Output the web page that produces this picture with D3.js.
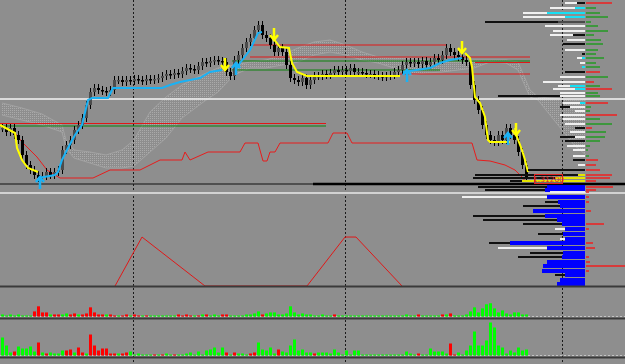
<!DOCTYPE html>
<html>
<head>
<meta charset="utf-8">
<script src="https://cdn.jsdelivr.net/npm/d3@7"></script>
<style>
  body { margin: 0; background: #8e8e8e; overflow: hidden; }
  svg { display: block; }
</style>
</head>
<body>
<div id="chart"></div>
<script>
// close prices, one per bar
const closes = [1.3226,1.3218,1.3226,1.3212,1.3202,1.3172,1.3152,1.3142,1.3132,1.3126,
  1.3130,1.3138,1.3132,1.3138,1.3142,1.3182,1.3192,1.3202,1.3222,1.3232,
  1.3246,1.3272,1.3298,1.3306,1.3302,1.3300,1.3298,1.3302,1.3322,1.3322,
  1.3318,1.3322,1.3320,1.3324,1.3322,1.3320,1.3324,1.3322,1.3324,1.3326,
  1.3330,1.3334,1.3332,1.3336,1.3334,1.3340,1.3346,1.3344,1.3342,1.3350,
  1.3358,1.3356,1.3360,1.3362,1.3360,1.3358,1.3338,1.3330,1.3362,1.3372,
  1.3386,1.3398,1.3406,1.3422,1.3432,1.3412,1.3406,1.3392,1.3378,1.3386,
  1.3378,1.3352,1.3326,1.3322,1.3318,1.3326,1.3312,1.3322,1.3330,1.3330,
  1.3334,1.3332,1.3336,1.3342,1.3338,1.3342,1.3340,1.3346,1.3338,1.3338,
  1.3336,1.3334,1.3334,1.3332,1.3330,1.3328,1.3330,1.3332,1.3338,1.3342,
  1.3352,1.3358,1.3356,1.3358,1.3354,1.3360,1.3352,1.3358,1.3366,1.3362,
  1.3372,1.3386,1.3378,1.3372,1.3368,1.3362,1.3358,1.3312,1.3282,1.3262,
  1.3232,1.3212,1.3202,1.3198,1.3212,1.3202,1.3226,1.3212,1.3202,1.3178,
  1.3152,1.3126];

// volumes, + buy (green) / - sell (red)
const vol1 = [2,1,2,1,2,1,1,1,-5,-10,
  -4,-4,2,-2,-2,2,3,-2,-3,2,
  -2,-3,-9,-4,-2,-2,2,-2,-1,1,
  -1,-2,1,-2,-1,1,-1,1,1,1,
  1,1,1,1,-2,-1,-2,-1,1,-1,
  2,-2,1,2,1,-2,-2,1,1,1,
  1,2,2,3,5,-2,3,4,4,2,
  2,3,10,4,2,3,2,2,1,1,
  2,1,1,-2,1,1,1,1,1,1,
  1,1,1,1,1,1,1,1,1,1,
  1,2,1,1,-2,1,1,1,1,1,
  -2,2,-3,1,1,1,2,5,9,4,
  8,12,13,8,4,6,3,2,4,4,
  2,2];
const vol2 = [18,10,3,-4,9,7,7,9,4,-13,
  3,-2,3,2,2,5,-5,-6,3,-8,
  -3,2,-21,-10,-5,-7,-7,-2,-2,2,
  -2,-3,4,1,2,1,1,1,-1,1,
  -1,2,1,-1,1,1,2,3,1,4,
  1,5,6,8,3,8,-3,1,-3,2,
  2,1,-2,-3,13,6,5,8,2,-6,
  4,3,10,16,5,6,3,3,-2,3,
  3,3,2,6,3,1,5,1,5,5,
  1,1,1,1,1,1,1,1,1,1,
  1,4,2,1,-2,1,1,7,4,4,
  4,2,-12,-1,3,1,5,10,24,10,
  10,15,33,28,10,8,2,5,3,8,
  5,6];

// ichimoku-like cloud: bar index, upper, lower
const cloudIdx = [0,5,10,15,16,18,22,26,30,33,37,41,45,50,54,58,62,66,70,74,78,82,86,90,94,98,102,106,110,114,118,122,126,129,132,134,137,140,143,146];
const cloudTop = [1.3276,1.3266,1.3254,1.3232,1.3202,1.3182,1.3178,1.3172,1.3182,1.3202,1.3258,1.3288,1.3312,1.3332,1.3346,1.3352,1.3358,1.3362,1.3372,1.3386,1.3398,1.3402,1.3392,1.3378,1.3368,1.3366,1.3366,1.3362,1.3358,1.3358,1.3362,1.3362,1.3362,1.3358,1.3302,1.3288,1.3286,1.3284,1.3282,1.3282];
const cloudBot = [1.3252,1.3242,1.3232,1.3218,1.3186,1.3166,1.3156,1.3146,1.3146,1.3150,1.3178,1.3206,1.3246,1.3276,1.3298,1.3332,1.3346,1.3346,1.3352,1.3358,1.3372,1.3378,1.3372,1.3362,1.3356,1.3346,1.3332,1.3336,1.3338,1.3342,1.3346,1.3358,1.3356,1.3342,1.3288,1.3282,1.3252,1.3222,1.3192,1.3172];

// red base line
const baseIdx = [-0.5,3.25,5,8.75,11.25,14.5,22.75,27,34.5,39.5,45,45.75,47,51.5,59.5,60.75,64,65.25,66.25,67,68.25,69.5,81.5,82.75,86.25,87.5,117.5,118.75,122,125.75,128.25,130,131];
const basePrice = [1.3232,1.3216,1.3198,1.3168,1.3142,1.3126,1.3126,1.3142,1.3142,1.3162,1.3162,1.3178,1.3162,1.3178,1.3178,1.3196,1.3196,1.3160,1.3160,1.3178,1.3178,1.3196,1.3196,1.3216,1.3216,1.3196,1.3196,1.3162,1.3160,1.3152,1.3142,1.3128,1.3118];

// trend stop segments [bar, price]
const yellowSegs = [
  [[-0.5,1.3232],[3.25,1.3216],[3.75,1.3186],[5,1.3162],[6.5,1.3146],[9,1.3138]],
  [[67.75,1.3406],[69.5,1.3388],[71.75,1.3386],[72.5,1.3356],[73.75,1.3338],[76.25,1.3330],[99.5,1.3330]],
  [[115.75,1.3376],[117,1.3366],[117.5,1.3348],[118.25,1.3288],[119.5,1.3276],[120.75,1.3248],[121.5,1.3202],[122,1.3198],[127,1.3198]],
  [[128.25,1.3226],[128.75,1.3208],[130,1.3182],[130.75,1.3162],[131.5,1.3138]]
];
const blueSegs = [
  [[9,1.3126],[13.25,1.3132],[14,1.3138],[15,1.3162],[16.5,1.3186],[18.25,1.3212],[20,1.3232],[21.5,1.3282],[22.5,1.3286],[26.5,1.3286],[27.75,1.3306],[40,1.3306],[42,1.3312],[44.5,1.3318],[47,1.3322],[49.5,1.3326],[52,1.3338],[55,1.3342]],
  [[58.75,1.3346],[59.5,1.3356],[62,1.3382],[64,1.3416],[65,1.3418]],
  [[100.25,1.3338],[107,1.3346],[109.5,1.3356],[112,1.3362],[115,1.3366]]
];
const sellArrows = [[55.75,1.3342],[68,1.3402],[115,1.3376],[128.5,1.3212]];
const buyArrows = [[9.5,1.3128],[58.5,1.3356],[101.25,1.3342],[126.5,1.3216]];

// horizontal levels
const levelPrice = [1.3284,1.3114,1.3114,1.3096,1.3235,1.3230,1.3392,1.3368,1.3360,1.3342,1.3357,1.3334];
const levelFrom  = [-1,-1,77.75,-1,-1,-1,62,62,57.5,57.5,118.25,99.5];
const levelTo    = [160,160,160,160,81,81,111.25,132,132,109.5,132,132];
const levelKind  = ['white','black','blackThick','light','red','green','red','red','green','green','red','red'];

// period separators (bar index)
const sepIdx = [32.75, 85.75, 140];

// lower oscillator turning points
const zzIdx = [28.25, 35, 50.75, 76.25, 85.75, 88.5, 100];
const zzVal = [0, 51, 0, 0, 51, 51, 0];

// volume profile rows
const profPrice = [1.3476,1.3466,1.3456,1.3448,1.3438,1.3430,1.3420,1.3412,1.3402,1.3394,
  1.3382,1.3374,1.3366,1.3356,1.3348,1.3338,1.3328,1.3318,1.3310,1.3304,
  1.3296,1.3290,1.3276,1.3268,1.3260,1.3252,1.3244,1.3234,1.3226,1.3218,
  1.3208,1.3200,1.3190,1.3182,1.3170,1.3162,1.3152,1.3142,1.3132,1.3126,
  1.3120,
  1.3108,1.3102,1.3098,1.3088,1.3078,1.3070,1.3060,1.3050,1.3042,1.3034,
  1.3024,1.3014,1.3004,1.2996,1.2986,1.2976,1.2968,1.2958,1.2950,1.2940,
  1.2932,1.2922,1.2914];
const profVol = [20,35,62,62,100,40,32,35,18,22,
  20,3,8,5,3,20,25,42,27,32,
  25,87,22,25,10,25,22,20,10,15,
  25,20,18,12,12,12,7,57,110,112,
  75,
  107,100,35,123,40,62,52,112,102,62,
  30,47,25,96,87,55,67,38,42,43,
  30,25,28];
const profIn = [8,10,38,20,27,0,0,12,0,0,
  0,0,3,0,3,0,0,0,15,10,
  0,25,5,15,0,0,0,0,0,0,
  10,0,0,0,0,0,0,0,7,30,
  63,
  38,40,35,38,27,25,52,40,28,23,
  20,22,20,75,38,22,23,38,42,43,
  20,25,28];
const profOut = ('wwwwkwwwwk' + 'wkwwckwwww' + 'wkwkwwwwkw' + 'kkwwwkwkkk' + 'k' +
  'kkwwkkbkkk' + 'wkwkwkkbbb' + 'kbb').split('');
const profInKind = ('kcccg--k--' + '--c-c---cc' + '-wcw------' + 'w-------yy' + 'y' +
  'bbwbbbbbbb' + 'bbbbbbbbbb' + 'bbb').split('');
const profDelta = [-26,10,14,22,5,12,22,8,15,17,
  12,10,18,10,14,-14,22,-8,14,-26,
  12,14,-22,5,4,-31,14,26,-6,20,
  19,14,4,2,3,-12,-10,-14,-26,-24,
  -10,
  -27,-10,-3,-3,-3,0,-5,0,0,-18,
  -3,0,0,-7,-9,0,-3,-4,-40,-3,
  0,0,0];

const lastLabel = '1.31200';
const lastPrice = 1.3120;

// ---------------------------------------------------------------
const W = 625, H = 364;
const bg = '#8e8e8e';
const svg = d3.select('#chart').append('svg').attr('width', W).attr('height', H);
svg.append('rect').attr('width', W).attr('height', H).attr('fill', bg);

const x = d3.scaleLinear().domain([0, closes.length - 1]).range([2, 526]);
const y = d3.scaleLinear().domain([1.2908, 1.3482]).range([287, 0]);
const zzY = d3.scaleLinear().domain([0, 100]).range([286, 190]);
const v1Y = d3.scaleLinear().domain([0, 28]).range([316.5, 288]);
const v2Y = d3.scaleLinear().domain([0, 35]).range([355.5, 320.5]);
const profX = d3.scaleLinear().domain([0, 150]).range([585, 435]);

const defs = svg.append('defs');
const pat = defs.append('pattern').attr('id', 'dots')
  .attr('width', 2).attr('height', 2).attr('patternUnits', 'userSpaceOnUse');
pat.append('rect').attr('width', 1).attr('height', 1).attr('fill', '#aaaaaa');

// cloud
const cloud = cloudIdx.map((d, i) => [d, cloudTop[i], cloudBot[i]]);
svg.append('path').datum(cloud)
  .attr('d', d3.area().x(d => x(d[0])).y0(d => y(d[2])).y1(d => y(d[1])))
  .attr('fill', 'url(#dots)');
[1, 2].forEach(k => {
  svg.append('path').datum(cloud)
    .attr('d', d3.line().x(d => x(d[0])).y(d => y(d[k])))
    .attr('fill', 'none').attr('stroke', '#a3a3a3').attr('stroke-width', 1);
});

// separators
svg.selectAll('.sep').data(sepIdx).enter().append('line')
  .attr('x1', d => Math.round(x(d)) + 0.5).attr('x2', d => Math.round(x(d)) + 0.5)
  .attr('y1', 0).attr('y2', H)
  .attr('stroke', '#1a1a1a').attr('stroke-dasharray', '2,2');

// levels
const levelStyle = {
  white: ['#f4f4f4', 1.5], black: ['#111', 1], blackThick: ['#000', 2.5],
  light: ['#d2d2d2', 2], red: ['#e01818', 1], green: ['#0c820c', 1.2]
};
svg.selectAll('.lvl').data(levelPrice).enter().append('line')
  .attr('x1', (d, i) => x(levelFrom[i])).attr('x2', (d, i) => x(levelTo[i]))
  .attr('y1', d => y(d)).attr('y2', d => y(d))
  .attr('stroke', (d, i) => levelStyle[levelKind[i]][0])
  .attr('stroke-width', (d, i) => levelStyle[levelKind[i]][1]);

// base line
svg.append('path').datum(baseIdx.map((d, i) => [d, basePrice[i]]))
  .attr('d', d3.line().x(d => x(d[0])).y(d => y(d[1])))
  .attr('fill', 'none').attr('stroke', '#e81c1c').attr('stroke-width', 1);

// candles
const opens = closes.map((c, i) => i ? closes[i - 1] : c);
const wick = 0.0008;
const candles = svg.append('g');
candles.selectAll('line').data(closes).enter().append('line')
  .attr('x1', (d, i) => Math.round(x(i)) + 0.5).attr('x2', (d, i) => Math.round(x(i)) + 0.5)
  .attr('y1', (d, i) => y(Math.max(d, opens[i]) + wick))
  .attr('y2', (d, i) => y(Math.min(d, opens[i]) - wick))
  .attr('stroke', '#000').attr('stroke-width', 1);
candles.selectAll('rect').data(closes).enter().append('rect')
  .attr('x', (d, i) => Math.round(x(i)) - 1)
  .attr('y', (d, i) => y(Math.max(d, opens[i])))
  .attr('width', 3)
  .attr('height', (d, i) => Math.max(1.5, Math.abs(y(d) - y(opens[i]))))
  .attr('fill', (d, i) => d >= opens[i] ? '#4c4c4c' : '#000');

// trend stops
const seg = d3.line().x(d => x(d[0])).y(d => y(d[1]));
svg.selectAll('.ys').data(yellowSegs).enter().append('path')
  .attr('d', seg).attr('fill', 'none').attr('stroke', '#ffff00').attr('stroke-width', 2);
svg.selectAll('.bs').data(blueSegs).enter().append('path')
  .attr('d', seg).attr('fill', 'none').attr('stroke', '#1ab2f5').attr('stroke-width', 2);

function arrow(cx, cy, dir) {
  const L = 12, s = 4;
  return `M${cx},${cy - dir * L}L${cx},${cy}M${cx - s},${cy - dir * 5}L${cx},${cy}L${cx + s},${cy - dir * 5}`;
}
svg.selectAll('.sa').data(sellArrows).enter().append('path')
  .attr('d', d => arrow(x(d[0]), y(d[1]), 1))
  .attr('fill', 'none').attr('stroke', '#ffff00').attr('stroke-width', 2.5);
svg.selectAll('.ba').data(buyArrows).enter().append('path')
  .attr('d', d => arrow(x(d[0]), y(d[1]), -1))
  .attr('fill', 'none').attr('stroke', '#1ab2f5').attr('stroke-width', 2.5);

// oscillator
svg.append('path').datum(zzIdx.map((d, i) => [d, zzVal[i]]))
  .attr('d', d3.line().x(d => x(d[0])).y(d => zzY(d[1])))
  .attr('fill', 'none').attr('stroke', '#e01818').attr('stroke-width', 1);

// volume profile
const profColor = { w: '#f0f0f0', k: '#101010', g: '#4a4a4a', c: '#16e0f5', b: '#0000ff', y: '#e6e600' };
const prof = svg.append('g');
prof.selectAll('.po').data(profPrice).enter().append('rect')
  .attr('x', (d, i) => profX(profVol[i]))
  .attr('y', d => y(d) - 1)
  .attr('width', (d, i) => profX(0) - profX(profVol[i]))
  .attr('height', 2)
  .attr('fill', (d, i) => profColor[profOut[i]]);
const inner = profPrice.map((d, i) => i).filter(i => profIn[i] > 0);
prof.selectAll('.pi').data(inner).enter().append('rect')
  .attr('x', i => profX(profIn[i]))
  .attr('y', i => y(profPrice[i]) - (profInKind[i] === 'b' ? 2 : 1))
  .attr('width', i => profX(0) - profX(profIn[i]))
  .attr('height', i => profInKind[i] === 'b' ? 4 : 2)
  .attr('fill', i => profColor[profInKind[i]]);
prof.selectAll('.pd').data(profDelta).enter().append('rect')
  .attr('x', 586)
  .attr('y', (d, i) => y(profPrice[i]) - 0.75)
  .attr('width', d => Math.abs(d))
  .attr('height', 1.5)
  .attr('fill', d => d >= 0 ? '#239b23' : '#f02020');

// last price label
const ly = y(lastPrice);
svg.append('rect').attr('x', 534.5).attr('y', ly - 6.5).attr('width', 28).attr('height', 9)
  .attr('fill', 'none').attr('stroke', '#e02020').attr('stroke-width', 1);
svg.append('text').attr('x', 548.5).attr('y', ly + 1)
  .attr('text-anchor', 'middle').attr('font-family', 'DejaVu Sans')
  .attr('font-size', 7.5).attr('fill', '#e02020').text(lastLabel);

// volume panes
function volPane(data, ys) {
  const g = svg.append('g');
  g.append('line').attr('x1', 0).attr('x2', W).attr('y1', ys(0)).attr('y2', ys(0))
    .attr('stroke', '#c4c4c4').attr('stroke-dasharray', '2,2');
  g.selectAll('rect').data(data).enter().append('rect')
    .attr('x', (d, i) => Math.round(x(i)) - 1)
    .attr('y', d => ys(Math.abs(d)))
    .attr('width', 3)
    .attr('height', d => ys(0) - ys(Math.abs(d)))
    .attr('fill', d => d >= 0 ? '#00ff00' : '#ff0000');
}
volPane(vol1, v1Y);
volPane(vol2, v2Y);

// pane borders
[286.5, 318.5, 357.5].forEach(py => {
  svg.append('line').attr('x1', 0).attr('x2', W).attr('y1', py).attr('y2', py)
    .attr('stroke', '#3a3a3a').attr('stroke-width', 2);
});
</script>
</body>
</html>
